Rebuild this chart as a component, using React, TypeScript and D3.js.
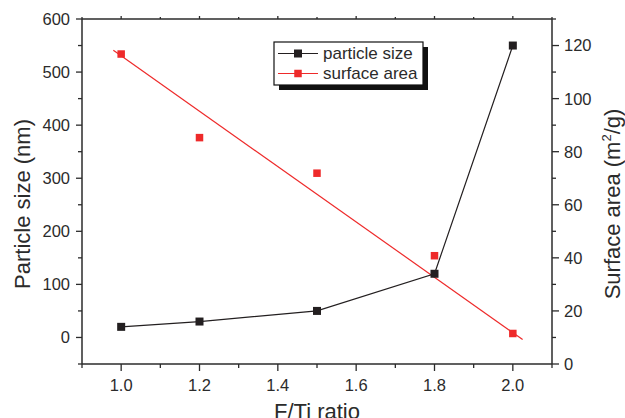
import React from "react";
import * as d3 from "d3";

// F/Ti ratio values
const ratios = [1.0, 1.2, 1.5, 1.8, 2.0];
// particle size (nm), left axis
const particleSize = [20, 30, 50, 120, 550];
// surface area (m2/g), right axis
const surfaceArea = [116.8, 85.3, 71.9, 40.8, 11.5];
// linear fit of surface area, drawn as a straight line
const fitX = [0.98, 2.025];
const fitY = [118.2, 9.2];

const xTicks = [1.0, 1.2, 1.4, 1.6, 1.8, 2.0];
const xMinor = [0.9, 1.1, 1.3, 1.5, 1.7, 1.9, 2.1];
const leftTicks = [0, 100, 200, 300, 400, 500, 600];
const leftMinor = [-50, 50, 150, 250, 350, 450, 550];
const rightTicks = [0, 20, 40, 60, 80, 100, 120];
const rightMinor = [10, 30, 50, 70, 90, 110, 130];

const W = 625;
const H = 418;
const margin = { left: 82, right: 73, top: 19, bottom: 54 };
const font = "'Liberation Sans', Arial, sans-serif";
const axisColor = "#2b2b2b";
const red = "#ee2a2a";
const black = "#231f20";

export default function App() {
  const x = d3
    .scaleLinear()
    .domain([0.9, 2.1])
    .range([margin.left, W - margin.right]);
  const yL = d3
    .scaleLinear()
    .domain([-50, 600])
    .range([H - margin.bottom, margin.top]);
  const yR = d3
    .scaleLinear()
    .domain([0, 130])
    .range([H - margin.bottom, margin.top]);

  const x0 = x.range()[0];
  const x1 = x.range()[1];
  const yb = yL.range()[0];
  const yt = yL.range()[1];

  const sizeLine = d3
    .line<number>()
    .x((_, i) => x(ratios[i]))
    .y((d) => yL(d))(particleSize);

  const fitLine = d3
    .line<number>()
    .x((_, i) => x(fitX[i]))
    .y((d) => yR(d))(fitY);

  const ms = 8;
  const rs = 7.5;

  // legend
  const lg = { x: 274, y: 42, w: 149, h: 43 };

  return (
    <svg
      width={W}
      height={H}
      style={{ position: "absolute", left: 0, top: 0, background: "#fff" }}
      fontFamily={font}
    >
      {/* fit line and data */}
      <path d={fitLine || ""} stroke={red} strokeWidth={1.2} fill="none" />
      {surfaceArea.map((d, i) => (
        <rect
          key={"r" + i}
          x={x(ratios[i]) - rs / 2}
          y={yR(d) - rs / 2}
          width={rs}
          height={rs}
          fill={red}
        />
      ))}
      <path d={sizeLine || ""} stroke={black} strokeWidth={1.2} fill="none" />
      {particleSize.map((d, i) => (
        <rect
          key={"b" + i}
          x={x(ratios[i]) - ms / 2}
          y={yL(d) - ms / 2}
          width={ms}
          height={ms}
          fill={black}
        />
      ))}

      {/* frame */}
      <g stroke={axisColor} strokeWidth={1.5} fill="none">
        <line x1={x0} x2={x1} y1={yb} y2={yb} />
        <line x1={x0} x2={x1} y1={yt} y2={yt} />
        <line x1={x0} x2={x0} y1={yt} y2={yb} />
        <line x1={x1} x2={x1} y1={yt} y2={yb} />
      </g>

      {/* bottom axis */}
      <g stroke={axisColor} strokeWidth={1.3}>
        {xTicks.map((t) => (
          <line key={"xt" + t} x1={x(t)} x2={x(t)} y1={yb} y2={yb + 7} />
        ))}
        {xMinor.map((t) => (
          <line key={"xm" + t} x1={x(t)} x2={x(t)} y1={yb} y2={yb + 4} />
        ))}
        {xTicks.map((t) => (
          <line key={"xtt" + t} x1={x(t)} x2={x(t)} y1={yt} y2={yt - 3} />
        ))}
        {xMinor.map((t) => (
          <line key={"xtm" + t} x1={x(t)} x2={x(t)} y1={yt} y2={yt - 2} />
        ))}
      </g>
      {xTicks.map((t) => (
        <text
          key={"xl" + t}
          x={x(t)}
          y={yb + 27}
          textAnchor="middle"
          fontSize={16.5}
          fill={axisColor}
        >
          {d3.format(".1f")(t)}
        </text>
      ))}

      {/* left axis */}
      <g stroke={axisColor} strokeWidth={1.3}>
        {leftTicks.map((t) => (
          <line key={"lt" + t} x1={x0 - 6} x2={x0} y1={yL(t)} y2={yL(t)} />
        ))}
        {leftMinor.map((t) => (
          <line key={"lm" + t} x1={x0 - 4} x2={x0} y1={yL(t)} y2={yL(t)} />
        ))}
      </g>
      {leftTicks.map((t) => (
        <text
          key={"ll" + t}
          x={x0 - 12}
          y={yL(t)}
          dy="0.36em"
          textAnchor="end"
          fontSize={16.5}
          fill={axisColor}
        >
          {t}
        </text>
      ))}

      {/* right axis */}
      <g stroke={axisColor} strokeWidth={1.3}>
        {rightTicks.map((t) => (
          <line key={"rt" + t} x1={x1} x2={x1 + 7} y1={yR(t)} y2={yR(t)} />
        ))}
        {rightMinor.map((t) => (
          <line key={"rm" + t} x1={x1} x2={x1 + 4} y1={yR(t)} y2={yR(t)} />
        ))}
      </g>
      {rightTicks.map((t) => (
        <text
          key={"rl" + t}
          x={x1 + 12}
          y={yR(t)}
          dy="0.36em"
          textAnchor="start"
          fontSize={16.5}
          fill={axisColor}
        >
          {t}
        </text>
      ))}

      {/* axis titles */}
      <text
        x={(x0 + x1) / 2}
        y={419}
        textAnchor="middle"
        fontSize={22}
        fill={axisColor}
      >
        F/Ti ratio
      </text>
      <text
        transform={`translate(30,204) rotate(-90)`}
        textAnchor="middle"
        fontSize={22}
        fill={axisColor}
      >
        Particle size (nm)
      </text>
      <text
        transform={`translate(620,204) rotate(-90)`}
        textAnchor="middle"
        fontSize={22}
        fill={axisColor}
      >
        Surface area (m
        <tspan fontSize={13} dy={-9}>
          2
        </tspan>
        <tspan dy={9}>/g)</tspan>
      </text>

      {/* legend */}
      <rect x={lg.x + 5} y={lg.y + 5} width={lg.w} height={lg.h} fill="#111" />
      <rect
        x={lg.x}
        y={lg.y}
        width={lg.w}
        height={lg.h}
        fill="#fff"
        stroke="#111"
        strokeWidth={1.2}
      />
      {[
        { label: "particle size", color: black, s: ms },
        { label: "surface area", color: red, s: rs },
      ].map((d, i) => {
        const cy = lg.y + 11.5 + i * 20;
        return (
          <g key={d.label}>
            <line
              x1={lg.x + 4}
              x2={lg.x + 44}
              y1={cy}
              y2={cy}
              stroke={d.color}
              strokeWidth={1}
            />
            <rect
              x={lg.x + 24 - d.s / 2}
              y={cy - d.s / 2}
              width={d.s}
              height={d.s}
              fill={d.color}
            />
            <text
              x={lg.x + 49}
              y={cy}
              dy="0.35em"
              fontSize={17}
              fill={axisColor}
            >
              {d.label}
            </text>
          </g>
        );
      })}
    </svg>
  );
}
